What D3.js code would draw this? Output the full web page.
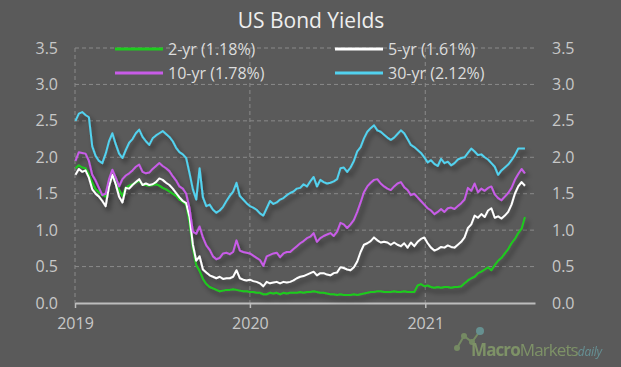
<!DOCTYPE html>
<html lang="en">
<head>
<meta charset="utf-8">
<title>US Bond Yields</title>
<script src="https://cdn.jsdelivr.net/npm/d3@7"></script>
<style>
  html, body { margin: 0; padding: 0; background: #5a5a5a; }
  svg { display: block; font-family: "Open Sans", "Noto Sans", sans-serif; }
</style>
</head>
<body>
<div id="chart"></div>
<script>
// weekly observations starting on this date
var startDate = "2019-01-02";
var stepDays = 7;

var yr2 = [1.85,1.89,1.86,1.85,1.76,1.65,1.56,1.52,1.48,1.46,1.62,1.75,1.68,1.55,1.47,1.58,1.61,1.63,1.65,1.68,
  1.62,1.62,1.61,1.62,1.63,1.61,1.58,1.56,1.53,1.50,1.47,1.42,1.39,1.35,1.10,0.75,0.52,0.44,0.33,0.26,
  0.22,0.20,0.18,0.16,0.17,0.18,0.18,0.19,0.18,0.17,0.16,0.16,0.15,0.15,0.14,0.14,0.12,0.12,0.14,0.13,
  0.14,0.12,0.14,0.13,0.14,0.14,0.14,0.15,0.14,0.15,0.15,0.16,0.15,0.14,0.14,0.13,0.12,0.12,0.11,0.12,
  0.11,0.11,0.11,0.12,0.11,0.12,0.13,0.14,0.15,0.15,0.16,0.16,0.15,0.15,0.15,0.16,0.15,0.15,0.16,0.15,
  0.15,0.15,0.24,0.26,0.23,0.24,0.22,0.21,0.22,0.21,0.22,0.22,0.21,0.22,0.22,0.23,0.27,0.31,0.34,0.36,
  0.41,0.43,0.46,0.49,0.45,0.52,0.58,0.62,0.68,0.74,0.82,0.88,0.96,1.02,1.18];

var yr5 = [1.76,1.84,1.80,1.82,1.72,1.56,1.50,1.46,1.40,1.33,1.60,1.76,1.63,1.46,1.38,1.58,1.57,1.62,1.66,1.70,
  1.62,1.64,1.62,1.63,1.66,1.71,1.69,1.65,1.62,1.57,1.51,1.45,1.40,1.37,1.18,0.80,0.58,0.64,0.46,0.42,
  0.38,0.36,0.34,0.36,0.33,0.34,0.34,0.36,0.45,0.34,0.32,0.31,0.32,0.30,0.29,0.27,0.23,0.29,0.27,0.28,
  0.29,0.27,0.29,0.28,0.29,0.31,0.34,0.36,0.37,0.39,0.41,0.43,0.38,0.41,0.41,0.39,0.38,0.41,0.42,0.49,
  0.48,0.46,0.45,0.49,0.57,0.70,0.80,0.82,0.85,0.90,0.86,0.83,0.84,0.83,0.80,0.83,0.80,0.78,0.82,0.76,
  0.83,0.78,0.84,0.88,0.90,0.82,0.76,0.72,0.74,0.77,0.76,0.79,0.77,0.76,0.80,0.84,0.90,1.03,1.08,1.20,
  1.17,1.22,1.18,1.27,1.30,1.17,1.19,1.16,1.20,1.25,1.35,1.50,1.60,1.66,1.61];

var yr10 = [1.95,2.07,2.06,2.05,1.95,1.76,1.68,1.58,1.48,1.50,1.70,1.83,1.72,1.60,1.70,1.75,1.78,1.82,1.87,1.90,
  1.80,1.78,1.79,1.84,1.88,1.92,1.88,1.85,1.81,1.74,1.68,1.60,1.57,1.50,1.30,0.98,0.95,1.05,0.90,0.79,
  0.73,0.64,0.60,0.62,0.68,0.69,0.67,0.70,0.86,0.72,0.70,0.69,0.68,0.65,0.62,0.59,0.51,0.64,0.66,0.68,
  0.69,0.63,0.68,0.70,0.70,0.74,0.78,0.82,0.85,0.89,0.91,0.96,0.84,0.89,0.92,0.94,0.96,0.92,0.98,1.10,
  1.08,1.03,1.08,1.14,1.25,1.38,1.52,1.60,1.65,1.69,1.70,1.64,1.60,1.57,1.55,1.60,1.64,1.66,1.59,1.55,
  1.48,1.50,1.45,1.40,1.35,1.30,1.27,1.22,1.25,1.29,1.25,1.30,1.31,1.29,1.33,1.37,1.42,1.58,1.54,1.64,
  1.52,1.57,1.54,1.58,1.60,1.49,1.44,1.41,1.46,1.51,1.58,1.69,1.77,1.84,1.78];

var yr30 = [2.50,2.60,2.62,2.58,2.55,2.15,2.02,1.95,1.92,2.05,2.22,2.33,2.18,2.05,1.99,2.10,2.20,2.25,2.33,2.38,
  2.28,2.22,2.17,2.26,2.30,2.33,2.36,2.32,2.28,2.22,2.13,2.07,2.04,1.99,1.78,1.56,1.42,1.85,1.45,1.33,
  1.35,1.28,1.24,1.27,1.32,1.40,1.47,1.53,1.65,1.47,1.42,1.37,1.33,1.31,1.28,1.23,1.20,1.30,1.40,1.36,
  1.38,1.42,1.44,1.48,1.51,1.53,1.57,1.58,1.63,1.60,1.67,1.73,1.60,1.69,1.66,1.64,1.65,1.67,1.70,1.85,
  1.86,1.80,1.86,1.95,2.08,2.14,2.26,2.35,2.40,2.44,2.37,2.35,2.31,2.27,2.24,2.27,2.32,2.37,2.33,2.25,
  2.17,2.14,2.10,2.06,2.00,1.93,1.96,1.91,1.88,1.98,1.92,1.94,1.89,1.92,1.97,1.99,2.00,2.06,2.12,2.08,
  2.03,2.04,2.00,1.97,1.92,1.87,1.76,1.82,1.86,1.90,1.96,2.03,2.12,2.12,2.12];

var seriesNames = ["2-yr (1.18%)", "5-yr (1.61%)", "10-yr (1.78%)", "30-yr (2.12%)"];
var seriesColors = ["#1ecb1e", "#ffffff", "#c85ce8", "#52d2ef"];
var yTicks = [0, 0.5, 1, 1.5, 2, 2.5, 3, 3.5];
var xTickYears = ["2019", "2020", "2021"];
var axisEnd = "2021-08-18";

var W = 621, H = 367;
var plotLeft = 75, plotRight = 535, plotTop = 48, plotBottom = 303;

var parse = d3.timeParse("%Y-%m-%d");
var t0 = parse(startDate);

function makeSeries(vals) {
  return vals.map(function(v, i) { return { date: d3.timeDay.offset(t0, i * stepDays), value: v }; });
}
var series = [yr2, yr5, yr10, yr30].map(makeSeries);

var x = d3.scaleTime().domain([parse("2019-01-01"), parse(axisEnd)]).range([plotLeft, plotRight]);
var y = d3.scaleLinear().domain([0, 3.5]).range([plotBottom, plotTop]);

var svg = d3.select("#chart").append("svg")
  .attr("width", W).attr("height", H);

svg.append("rect").attr("width", W).attr("height", H).attr("fill", "#5a5a5a");

var defs = svg.append("defs");
var f = defs.append("filter").attr("id", "shadow")
  .attr("x", "-10%").attr("y", "-10%").attr("width", "130%").attr("height", "130%");
f.append("feDropShadow").attr("dx", 3).attr("dy", 4).attr("stdDeviation", 2.5)
  .attr("flood-color", "#000").attr("flood-opacity", 0.5);

// title
svg.append("text").attr("x", 311).attr("y", 28).attr("text-anchor", "middle")
  .attr("fill", "#eeeeee").attr("font-size", 21).text("US Bond Yields");

// horizontal grid
svg.append("g").selectAll("line").data(yTicks.filter(function(d) { return d > 0; }))
  .enter().append("line")
  .attr("x1", plotLeft).attr("x2", plotRight)
  .attr("y1", function(d) { return y(d); }).attr("y2", function(d) { return y(d); })
  .attr("stroke", "#8a8a8a").attr("stroke-width", 1).attr("stroke-dasharray", "4,3");

// vertical grid
svg.append("g").selectAll("line").data(xTickYears)
  .enter().append("line")
  .attr("x1", function(d) { return x(parse(d + "-01-01")); })
  .attr("x2", function(d) { return x(parse(d + "-01-01")); })
  .attr("y1", plotTop).attr("y2", plotBottom)
  .attr("stroke", "#8a8a8a").attr("stroke-width", 1).attr("stroke-dasharray", "4,3");

// y axes (left and right)
var fmt = d3.format(".1f");
var yAxL = svg.append("g").attr("transform", "translate(" + (plotLeft - 14) + ",0)")
  .call(d3.axisLeft(y).tickValues(yTicks).tickFormat(fmt).tickSize(0));
var yAxR = svg.append("g").attr("transform", "translate(" + (plotRight + 14) + ",0)")
  .call(d3.axisRight(y).tickValues(yTicks).tickFormat(fmt).tickSize(0));
[yAxL, yAxR].forEach(function(g) {
  g.select(".domain").remove();
  g.selectAll("text").attr("fill", "#c8c8c8").attr("font-size", 16)
    .attr("font-family", "'Open Sans', sans-serif");
});

// x axis
var xa = svg.append("g").attr("transform", "translate(0," + plotBottom + ")")
  .call(d3.axisBottom(x).tickValues(xTickYears.map(function(d) { return parse(d + "-01-01"); }))
    .tickFormat(d3.timeFormat("%Y")).tickSize(5).tickSizeOuter(0));
xa.select(".domain").attr("stroke", "#bdbdbd").attr("stroke-width", 2);
xa.selectAll(".tick line").attr("stroke", "#bdbdbd").attr("stroke-width", 1.5);
xa.selectAll("text").attr("fill", "#c8c8c8").attr("font-size", 16)
  .attr("font-family", "'Open Sans', sans-serif").attr("dy", "1.15em");

// lines
var line = d3.line().x(function(d) { return x(d.date); }).y(function(d) { return y(d.value); });
svg.append("g").attr("filter", "url(#shadow)").selectAll("path").data(series)
  .enter().append("path")
  .attr("d", line)
  .attr("fill", "none")
  .attr("stroke", function(d, i) { return seriesColors[i]; })
  .attr("stroke-width", 2)
  .attr("stroke-linejoin", "round");

// legend
var legendPos = [[115, 49], [335, 49], [115, 73], [335, 73]];
var lg = svg.append("g").selectAll("g").data(seriesNames).enter().append("g")
  .attr("transform", function(d, i) { return "translate(" + legendPos[i][0] + "," + legendPos[i][1] + ")"; });
lg.append("line").attr("x1", 0).attr("x2", 48).attr("y1", 0).attr("y2", 0)
  .attr("stroke", function(d, i) { return seriesColors[i]; }).attr("stroke-width", 3);
lg.append("text").attr("x", 53).attr("y", 6).attr("fill", "#dddddd").attr("font-size", 16)
  .text(function(d) { return d; });

// watermark
var logo = svg.append("g").attr("opacity", 0.75);
var pts = [[457, 348], [464, 336], [472, 342], [480, 331]];
logo.append("path").attr("d", d3.line()(pts)).attr("fill", "none")
  .attr("stroke", "#7f9a66").attr("stroke-width", 2);
logo.selectAll("circle").data(pts).enter().append("circle")
  .attr("cx", function(d) { return d[0]; }).attr("cy", function(d) { return d[1]; })
  .attr("r", function(d, i) { return i == 3 ? 4 : 3; })
  .attr("fill", function(d, i) { return i == 3 ? "#6aa3a3" : "#7f9a66"; });
var lt = logo.append("text").attr("x", 471).attr("y", 356).attr("font-size", 17)
  .attr("font-family", "'Open Sans', sans-serif").attr("letter-spacing", -0.9);
lt.append("tspan").attr("fill", "#8aa56c").attr("font-weight", "bold").text("Macro");
lt.append("tspan").attr("fill", "#8aa56c").text("Markets");
lt.append("tspan").attr("fill", "#6aa3a8").attr("font-style", "italic").attr("font-size", 12)
  .attr("letter-spacing", -0.3).text("daily");
</script>
</body>
</html>
